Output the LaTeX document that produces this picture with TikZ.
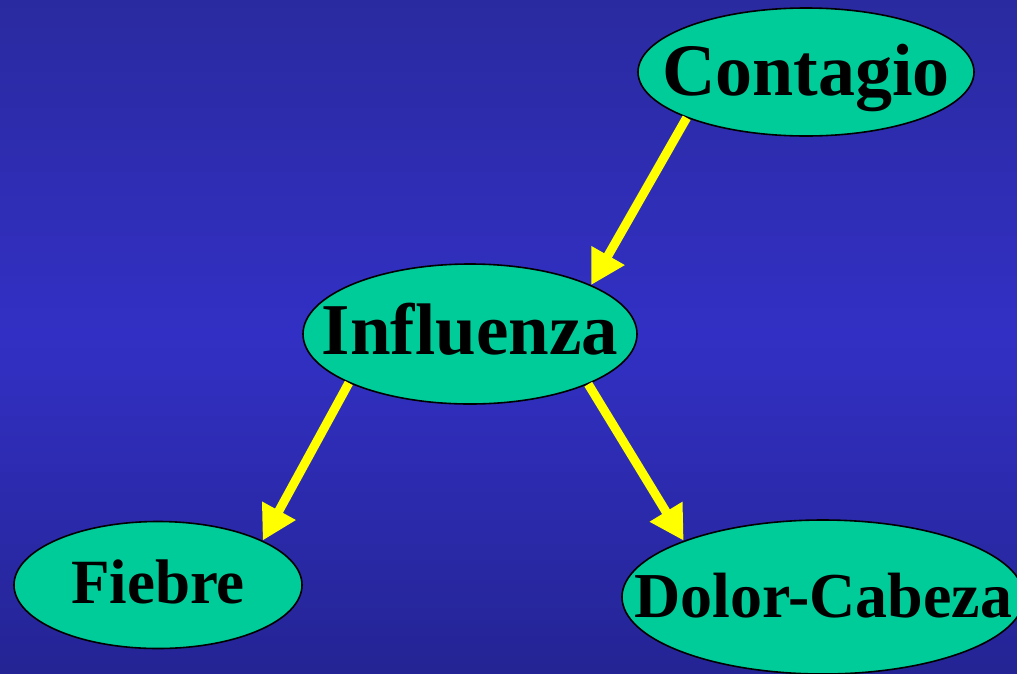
\documentclass[tikz,border=0pt]{standalone}
\usepackage{fontspec}
\setmainfont{Liberation Serif}
\usetikzlibrary{shapes.geometric,arrows.meta}

\definecolor{bgtop}{RGB}{42,42,160}
\definecolor{bgmid}{RGB}{50,48,196}
\definecolor{bgbot}{RGB}{36,36,148}
\definecolor{nodefill}{RGB}{0,204,153}
\definecolor{arrowyellow}{RGB}{255,255,0}

\tikzset{
  var/.style 2 args={ellipse, draw=black, line width=1.6pt, fill=nodefill, inner sep=0pt,
    font=\bfseries\fontsize{#1}{#1}\selectfont, text height=#2, text depth=0pt},
  link/.style={draw=arrowyellow, line width=9pt,
    -{Triangle[length=34pt,width=36pt,fill=arrowyellow]}}
}

\begin{document}
\begin{tikzpicture}[x=1pt,y=-1pt]
  % canvas and background gradient (light band in the middle)
  \clip (0,0) rectangle (1017,673);
  \useasboundingbox (0,0) rectangle (1017,673);
  \foreach \i in {0,...,82} {
    \pgfmathtruncatemacro\pp{100*\i/82}
    \fill[bgmid!\pp!bgtop] (0,4*\i) rectangle (1017,4*\i+4.6);
  }
  \foreach \i in {0,...,85} {
    \pgfmathtruncatemacro\pp{100*\i/85}
    \fill[bgbot!\pp!bgmid] (0,332+4*\i) rectangle (1017,336.6+4*\i);
  }

  % variables of the network
  \node[var={74}{46pt}, minimum width=336pt, minimum height=128pt] (contagio)
    at (806,72) {\makebox[0pt]{Contagio}};
  \node[var={73}{40pt}, minimum width=334pt, minimum height=140pt] (influenza)
    at (470,334) {\makebox[0pt]{Inf\kern0ptluenza}};
  \node[var={63}{36pt}, minimum width=288pt, minimum height=127pt] (fiebre)
    at (158,585) {\makebox[0pt]{Fiebre}};
  \node[var={64}{40pt}, minimum width=402pt, minimum height=154pt] (dolor)
    at (823,597) {\makebox[0pt]{Dolor-Cabeza}};

  % causal links
  \draw[link] (contagio.201) -- (influenza.22.6);
  \draw[link] (influenza.202.5) -- (fiebre.23.9);
  \draw[link] (influenza.337.5) -- (dolor.158.7);
\end{tikzpicture}
\end{document}
